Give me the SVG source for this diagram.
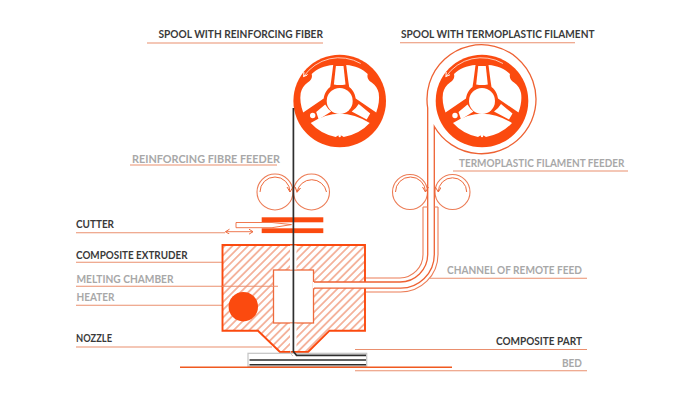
<svg xmlns="http://www.w3.org/2000/svg" width="700" height="400" viewBox="0 0 700 400">
<style>
text{font-family:"Lato","Open Sans","Liberation Sans",sans-serif;font-size:11.2px;font-weight:700}
.d{fill:#3a3a3a}.g{fill:#a8a8a8}
.l{fill:none;stroke:#ea8f6e;stroke-width:1.1}
.t{fill:none;stroke:#ee6a3c;stroke-width:1}
.r{fill:none;stroke:#ec7d57;stroke-width:1.1}
.c{fill:none;stroke:#ee6233;stroke-width:1.3}
.o{fill:#fb4a0f}
.f{fill:none;stroke:#2e2e2e;stroke-width:1.7}
</style>
<defs>
<pattern id="hatch" width="5.500" height="5.500" patternUnits="userSpaceOnUse" patternTransform="rotate(45)">
<rect width="5.500" height="5.500" fill="#fff"/>
<line x1="2.750" y1="0" x2="2.750" y2="5.500" stroke="#ec7349" stroke-width="1"/>
</pattern>
<marker id="ah" markerWidth="7" markerHeight="7" refX="5" refY="3" orient="auto" markerUnits="userSpaceOnUse">
<path d="M0,0 L5,3 L0,6" fill="none" stroke="#ec6a3e" stroke-width="1"/>
</marker>
<marker id="as" markerWidth="6" markerHeight="6" refX="4" refY="2.5" orient="auto-start-reverse" markerUnits="userSpaceOnUse">
<path d="M0,0 L4,2.5 L0,5" fill="none" stroke="#ec6a3e" stroke-width="1"/>
</marker>
<marker id="aw" markerWidth="6" markerHeight="6" refX="4" refY="2.5" orient="auto" markerUnits="userSpaceOnUse">
<path d="M0,0 L4,2.5 L0,5" fill="none" stroke="#fff" stroke-width="1"/>
</marker>
<g id="spool">
<circle r="46.3" class="o"/>
<path fill="#fff" d="M-6.500,-36 C-15,-35.500 -23,-32 -28,-27 C-27,-23 -29,-20.500 -32,-18.500 C-36,-16 -38,-12 -39,-8 C-40,-2 -39,5 -36.500,11.500 L-16,-2.500 C-15.500,-6 -14,-10.500 -9.500,-14 C-8.500,-20 -7.500,-28 -6.500,-36 Z"/>
<path fill="#fff" d="M6.500,-36 C15,-35.500 23,-32 28,-27 C27,-23 29,-20.500 32,-18.500 C36,-16 38,-12 39,-8 C40,-2 39,5 36.500,11.500 L16,-2.500 C15.500,-6 14,-10.500 9.500,-14 C8.500,-20 7.500,-28 6.500,-36 Z"/>
<path fill="#fff" d="M-3.800,-35 L3.800,-35 L5.800,-16.500 Q0,-15.500 -5.800,-16.500 Z"/>
<path fill="#fff" d="M-23.500,11 L-14.500,3.500 Q-12,8 -8.500,10.500 L-21,18.500 Z"/>
<path fill="#fff" d="M12,10.500 Q16,8 19,3 L30.500,12.500 L27,18.500 Z"/>
<circle cx="-27" cy="14.500" r="2.700" fill="#fff"/>
<path fill="#fff" d="M-29,22 Q0,3.500 30,22 Q20,33 4,36 Q0,32.500 -4,36 Q-19,33 -29,22 Z"/>
<circle cx="0" cy="35" r="1.200" fill="#fff"/>
<circle r="13" fill="#fff"/>
<path d="M21,-37.500 A43,43 0 0 0 -36,-24.500" fill="none" stroke="#fff" stroke-width="0.700" marker-end="url(#aw)"/>
</g>
</defs>
<rect width="700" height="400" fill="#fff"/>

<g id="connectors">
<path class="l" d="M147,43H323"/>
<path class="l" d="M400,42.700H575"/>
<path class="l" d="M130,165H277"/>
<path class="l" d="M453,171H628"/>
<path class="l" d="M430,278.300H587"/>
<path class="l" d="M76,232.700H225"/>
<path class="l" d="M76,262.300H222"/>
<path class="l" d="M76,286.300H278"/>
<path class="l" d="M76,305.300H222"/>
<path class="l" d="M76,347H272"/>
<path class="l" d="M355,349.500H587"/>
<path class="l" d="M355,370.700H587"/>
</g>

<g id="spool-fiber"><use href="#spool" x="339.700" y="101"/></g>
<g id="spool-filament"><use href="#spool" x="482" y="101"/></g>

<g id="feeder-fiber">
<circle cx="275" cy="192" r="18" class="r"/>
<circle cx="311.500" cy="192" r="18" class="r"/>
<path class="t" d="M260,192 A15,15 0 0 1 290,192" marker-end="url(#ah)"/>
<path class="t" d="M326.500,192 A15,15 0 0 0 297,192" marker-end="url(#ah)"/>
</g>
<g id="feeder-filament">
<circle cx="410" cy="192" r="17.500" class="r"/>
<circle cx="452.500" cy="192" r="17.500" class="r"/>
<path class="t" d="M395.500,192 A15,15 0 0 1 425.500,192" marker-end="url(#ah)"/>
<path class="t" d="M466.700,192 A14.200,14.200 0 0 0 438.300,192" marker-end="url(#ah)"/>
</g>

<g id="extruder">
<path d="M222.500,245H365V330.700H329.500L308,352H280L258,330.700H222.500Z" fill="url(#hatch)" stroke="#fb4a0f" stroke-width="1.900"/>
<rect x="273.500" y="270" width="40" height="53" fill="#fff" stroke="#ee6a3c" stroke-width="1.300"/>
<rect x="290" y="245.500" width="6.500" height="24" fill="#fff"/>
<rect x="290" y="323.500" width="6.500" height="27.500" fill="#fff"/>
<rect x="313" y="282" width="54" height="6.200" fill="#fff"/>
<path d="M278,286.300H222" class="l"/>
<circle id="heater" cx="243.300" cy="306.700" r="14.700" class="o"/>
</g>

<g id="filament">
<path class="c" d="M434.300,208V126.500 A54.500,54.500 0 1 0 427.700,108V254.500 A27.700,27.700 0 0 1 400,282H314"/>
<path class="c" d="M434.300,208V254.500 A33.700,33.700 0 0 1 400,288.200H314"/>
<path class="r" d="M423,207H428M434,207H438M423,207V254.500 A23.500,23.500 0 0 1 400,278H366"/>
<path class="r" d="M438,207V254.500 A37.500,37.500 0 0 1 400,292H366"/>
</g>

<g id="cutter">
<rect x="261.700" y="217.300" width="61.600" height="5" class="o"/>
<rect x="261.700" y="228.300" width="61.600" height="4.800" class="o"/>
<path d="M236,222.500H272L291.500,224.600L272,227.700H236Z" fill="#fff" stroke="#ee6a3c" stroke-width="0.900"/>
<path d="M225.500,231.700H253" fill="none" stroke="#ec6a3e" stroke-width="0.900" marker-start="url(#as)" marker-end="url(#as)"/>
</g>

<g id="composite-part">
<rect x="248" y="353.300" width="118.700" height="13.200" fill="#fff" stroke="#c4c4c4" stroke-width="1.200"/>
<path d="M249.500,360H366M249.500,364.800H366" fill="none" stroke="#2e2e2e" stroke-width="1.500"/>
<path d="M290.500,351 Q290,354.500 293,356" fill="none" stroke="#c4c4c4" stroke-width="1"/>
</g>
<g id="fiber">
<path class="f" d="M293.400,108V351.500L296.500,355.300H366"/>
</g>
<g id="bed"><path d="M180,367.300H452" fill="none" stroke="#f0591f" stroke-width="1.400"/></g>

<g id="labels">
<text class="d" x="158.500" y="37.500" textLength="164.500" lengthAdjust="spacingAndGlyphs">SPOOL WITH REINFORCING FIBER</text>
<text class="d" x="401" y="37.500" textLength="193.500" lengthAdjust="spacingAndGlyphs">SPOOL WITH TERMOPLASTIC FILAMENT</text>
<text class="g" x="132" y="162.500" textLength="148" lengthAdjust="spacingAndGlyphs">REINFORCING FIBRE FEEDER</text>
<text class="g" x="459" y="166.500" textLength="165.500" lengthAdjust="spacingAndGlyphs">TERMOPLASTIC FILAMENT FEEDER</text>
<text class="g" x="447" y="273.500" textLength="135" lengthAdjust="spacingAndGlyphs">CHANNEL OF REMOTE FEED</text>
<text class="d" x="76" y="227.500" textLength="38" lengthAdjust="spacingAndGlyphs">CUTTER</text>
<text class="d" x="76" y="258.700" textLength="111.500" lengthAdjust="spacingAndGlyphs">COMPOSITE EXTRUDER</text>
<text class="g" x="76.500" y="282.700" textLength="97" lengthAdjust="spacingAndGlyphs">MELTING CHAMBER</text>
<text class="g" x="76.500" y="301" textLength="38" lengthAdjust="spacingAndGlyphs">HEATER</text>
<text class="d" x="76" y="341.500" textLength="36" lengthAdjust="spacingAndGlyphs">NOZZLE</text>
<text class="d" x="496" y="345" textLength="86" lengthAdjust="spacingAndGlyphs">COMPOSITE PART</text>
<text class="g" x="562" y="367" textLength="20" lengthAdjust="spacingAndGlyphs">BED</text>
</g>
</svg>
